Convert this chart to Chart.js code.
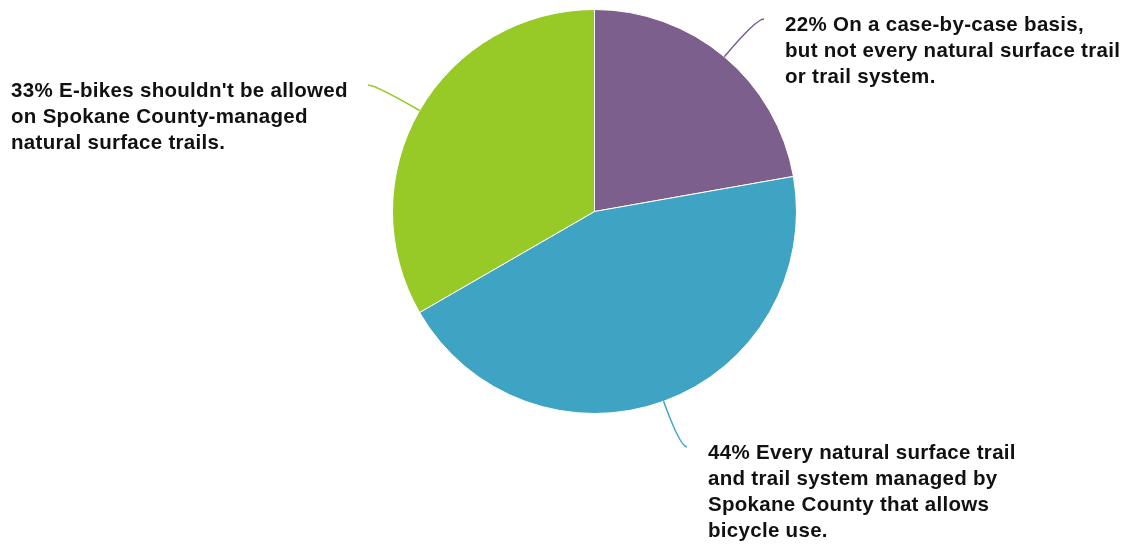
<html>
<head>
<script src="https://cdn.jsdelivr.net/npm/chart.js"></script>
<style>
  body { margin: 0; background: #fff; font-family: "Liberation Sans", Arial, sans-serif; }
  #wrap { width: 1126px; height: 548px; }
</style>
</head>
<body>
<div id="wrap"><canvas id="pie" width="1126" height="548"></canvas></div>

<script>
// survey answers, clockwise from 12 o'clock
const answers = ['On a case-by-case basis, but not every natural surface trail or trail system.',
                 'Every natural surface trail and trail system managed by Spokane County that allows bicycle use.',
                 'E-bikes shouldn\'t be allowed on Spokane County-managed natural surface trails.'];
const percents = [22, 44, 33];
const sliceColors = ['#7d5f8e', '#3fa3c3', '#97c927'];

// wrapped label lines, same order as the slices
const labelLines = [
  ['22% On a case-by-case basis,', 'but not every natural surface trail', 'or trail system.'],
  ['44% Every natural surface trail', 'and trail system managed by', 'Spokane County that allows', 'bicycle use.'],
  ['33% E-bikes shouldn\'t be allowed', 'on Spokane County-managed', 'natural surface trails.']
];

// where each label block sits: x, baseline of first line, alignment side
const labelSpots = [
  { x: 785, y: 31, side: 'right' },
  { x: 708, y: 459, side: 'right' },
  { x: 11, y: 97, side: 'left' }
];

const lineGap = 26;
const labelFont = 'bold 20.5px "Liberation Sans"';

const calloutPlugin = {
  id: 'callouts',
  afterDatasetsDraw(chart) {
    const ctx = chart.ctx;
    const arcs = chart.getDatasetMeta(0).data;
    ctx.save();
    ctx.font = labelFont;
    ctx.letterSpacing = '0.3px';
    arcs.forEach((arc, i) => {
      const mid = (arc.startAngle + arc.endAngle) / 2;
      const sx = arc.x + Math.cos(mid) * arc.outerRadius;
      const sy = arc.y + Math.sin(mid) * arc.outerRadius;
      const spot = labelSpots[i];
      const lines = labelLines[i];

      // end of the leader, just beside the first text line
      let ex, ey = spot.y - 12;
      if (spot.side === 'right') {
        ex = spot.x - 21;
      } else {
        ex = spot.x + ctx.measureText(lines[0]).width + 20;
      }
      // control point where the radial direction meets the horizontal
      const t = (ey - sy) / Math.sin(mid);
      const cx = sx + Math.cos(mid) * t;

      ctx.strokeStyle = sliceColors[i];
      ctx.lineWidth = 1.5;
      ctx.beginPath();
      ctx.moveTo(sx, sy);
      ctx.quadraticCurveTo(cx, ey, ex, ey);
      ctx.stroke();

      ctx.fillStyle = '#111';
      ctx.textAlign = 'left';
      ctx.textBaseline = 'alphabetic';
      lines.forEach((ln, k) => {
        ctx.fillText(ln, spot.x, spot.y + k * lineGap);
      });
    });
    ctx.restore();
  }
};

new Chart(document.getElementById('pie'), {
  type: 'pie',
  data: {
    labels: answers,
    datasets: [{
      data: percents,
      backgroundColor: sliceColors,
      borderColor: '#ffffff',
      borderWidth: 1
    }]
  },
  options: {
    responsive: false,
    animation: false,
    layout: { padding: { left: 392, right: 329, top: 9, bottom: 134 } },
    plugins: {
      legend: { display: false },
      tooltip: { enabled: false }
    }
  },
  plugins: [calloutPlugin]
});
</script>
</body>
</html>
